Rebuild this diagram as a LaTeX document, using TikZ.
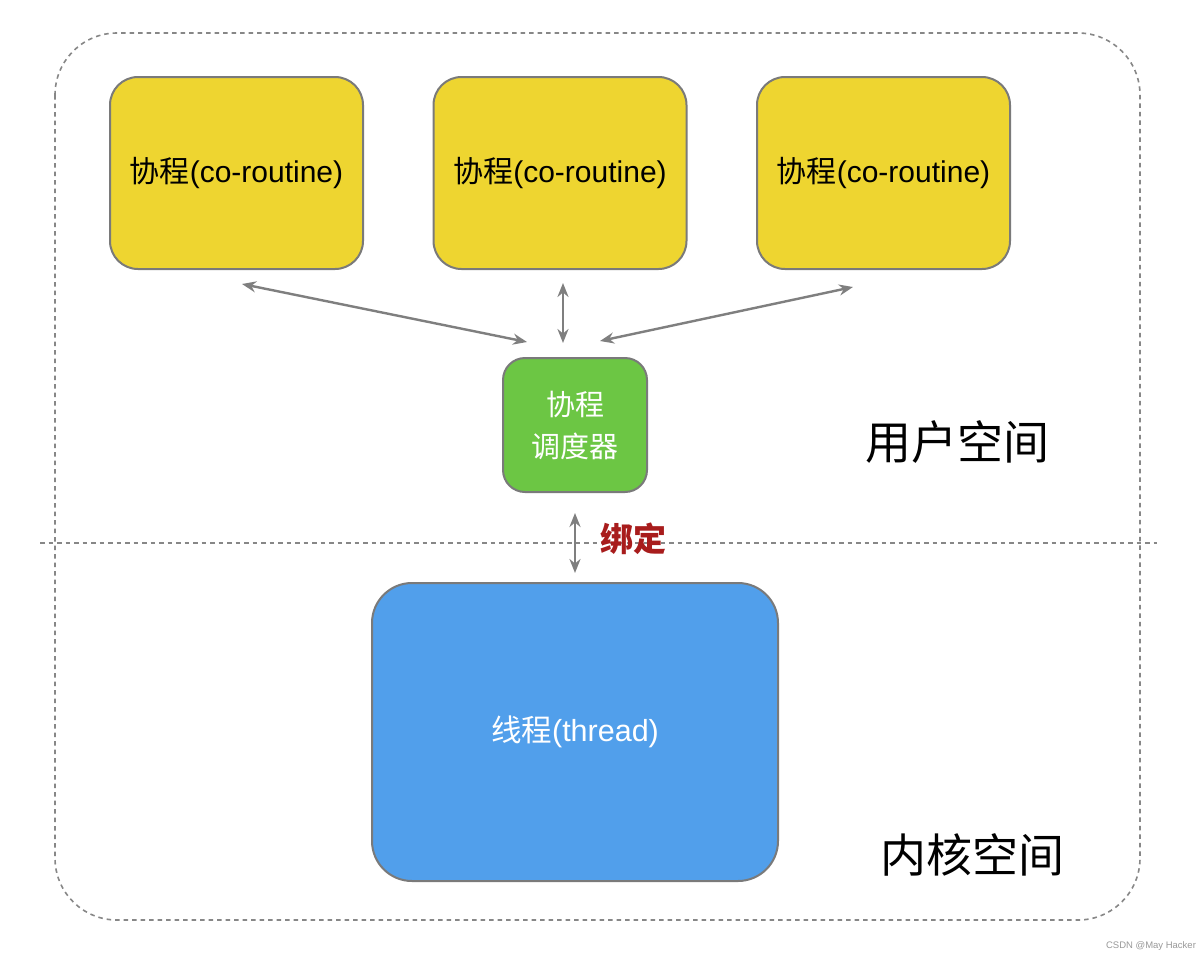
\documentclass[tikz,border=0pt]{standalone}
\usepackage{fontspec}
\setmainfont{Liberation Sans}
\newfontfamily\cjk{Noto Sans CJK SC}
\usetikzlibrary{arrows.meta}
\definecolor{cyellow}{HTML}{EED530}
\definecolor{cgreen}{HTML}{6CC644}
\definecolor{cblue}{HTML}{519FEB}
\definecolor{cborder}{HTML}{7A7A7A}
\definecolor{carrow}{HTML}{7F7F7F}
\definecolor{cred}{HTML}{A81C1C}
\tikzset{
  corobox/.style={draw=cborder, line width=2pt, fill=cyellow, rounded corners=28pt,
    minimum width=253pt, minimum height=192pt, inner sep=0pt, font=\fontsize{30}{34}\selectfont, text=black},
  schedbox/.style={draw=cborder, line width=2pt, fill=cgreen, rounded corners=22pt,
    minimum width=144pt, minimum height=134pt, inner sep=0pt, align=center,
    font=\cjk\fontsize{29}{42}\selectfont, text=white},
  threadbox/.style={draw=cborder, line width=2pt, fill=cblue, rounded corners=40pt,
    minimum width=406pt, minimum height=298pt, inner sep=0pt, font=\fontsize{30.5}{34}\selectfont, text=white},
  biarrow/.style={draw=carrow, line width=2.4pt, {Stealth[length=14pt,width=11pt]}-{Stealth[length=14pt,width=11pt]}},
  dashline/.style={draw=cborder!90, line width=1.6pt, dash pattern=on 4.5pt off 4pt},
  spacelabel/.style={font=\cjk\fontsize{46}{50}\selectfont, text=black, inner sep=0pt}
}
\begin{document}
\begin{tikzpicture}[x=1pt,y=-1pt]
\useasboundingbox[fill=white] (0,0) rectangle (1200,956);
% outer dashed frame
\draw[dashline, rounded corners=62pt] (55,33) rectangle (1140,920);
% separator
\draw[dashline] (40,543) -- (1157,543);
% coroutine boxes
\node[corobox] (c1) at (236.5,173) {{\cjk 协程}(co-routine)};
\node[corobox] (c2) at (560,173) {{\cjk 协程}(co-routine)};
\node[corobox] (c3) at (883.5,173) {{\cjk 协程}(co-routine)};
% scheduler
\node[schedbox] (s) at (575,425) {协程\\调度器};
% thread
\node[threadbox] (t) at (575,732) {{\cjk 线程}(thread)};
% labels
\node[spacelabel] (us) at (957,442) {用户空间};
\node[spacelabel] (ks) at (972,855) {内核空间};
\node[font=\cjk\fontsize{33}{36}\selectfont\bfseries, text=cred, inner sep=0pt] (bind) at (633,539) {绑定};
\node[font=\fontsize{9.5}{12}\selectfont, text=gray!80, inner sep=0pt] (wm) at (1151,946) {CSDN @May Hacker};
% arrow endpoints
\coordinate (a1s) at (242,284);
\coordinate (a1e) at (527,342);
\coordinate (a2s) at (563,283);
\coordinate (a2e) at (563,343);
\coordinate (a3s) at (853,287);
\coordinate (a3e) at (600,341);
\coordinate (a4s) at (575,513);
\coordinate (a4e) at (575,573);
\draw[biarrow] (a1s) -- (a1e);
\draw[biarrow] (a2s) -- (a2e);
\draw[biarrow] (a3s) -- (a3e);
\draw[biarrow] (a4s) -- (a4e);
\end{tikzpicture}
\end{document}
